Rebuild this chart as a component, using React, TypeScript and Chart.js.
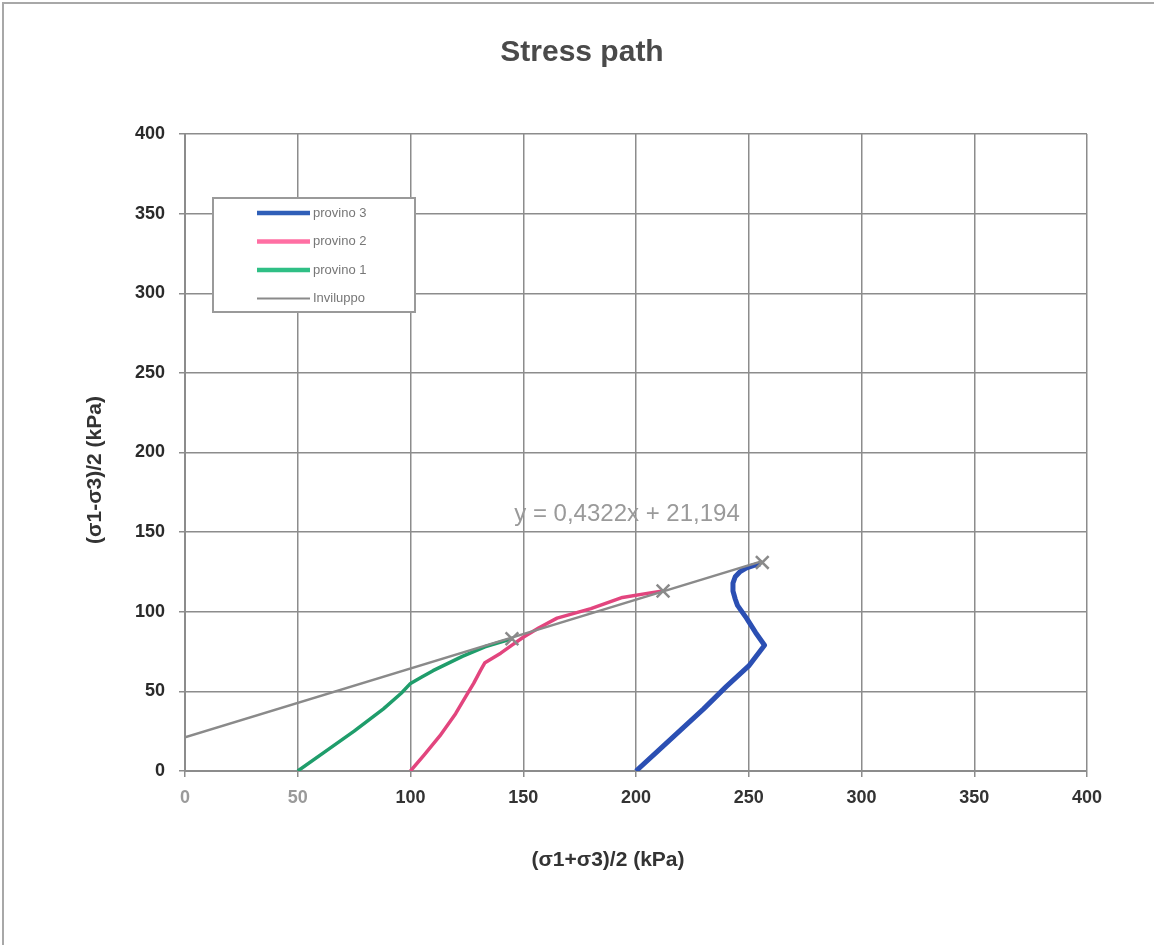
import React, { useEffect, useRef } from "react";
import { Chart, registerables } from "chart.js";

Chart.register(...registerables);

const TITLE = "Stress path";
const X_TITLE = "(σ1+σ3)/2 (kPa)";
const Y_TITLE = "(σ1-σ3)/2 (kPa)";
const EQUATION = "y = 0,4322x + 21,194";
const EQUATION_POS = [146, 161];

const X_TICKS = [0, 50, 100, 150, 200, 250, 300, 350, 400];
const Y_TICKS = [0, 50, 100, 150, 200, 250, 300, 350, 400];

const provino3 = [
  [200, 0], [210, 13], [220, 26], [230, 39], [240, 53], [250, 66], [257, 79],
  [253, 87], [249, 96], [245, 104], [244, 108], [243, 113], [243, 118],
  [244, 122], [246, 125], [249, 127.5], [252, 129], [255, 130],
];
const provino2 = [
  [100, 0], [106, 10], [113, 22], [120, 36], [125, 48], [128, 55], [131, 63],
  [133, 68], [140, 74], [145, 79], [150, 84], [157, 90], [165, 96], [180, 102],
  [194, 109], [207, 112], [212, 113],
];
const provino1 = [
  [50, 0], [62, 12], [75, 25], [88, 39], [96, 49], [100, 55], [105, 59],
  [110, 63], [123, 72], [133, 78], [140, 81], [145, 83],
];
const inviluppo = [[0, 21.2], [256, 131.8]];
const failurePoints = [[145, 83], [212, 113], [256, 131]];

const SERIES_NAMES = ["provino 3", "provino 2", "provino 1", "Inviluppo"];
const SERIES_COLORS = ["#2b4fb3", "#e2457e", "#1f9d6b", "#8a8a8a"];
const LEGEND_COLORS = ["#2f5fb8", "#ff6fa3", "#2fbf85", "#8a8a8a"];

const toXY = (arr: number[][]) => arr.map(([x, y]) => ({ x, y }));

const FONT = "'Liberation Sans', Arial, sans-serif";

const extrasPlugin = {
  id: "extras",
  afterDraw(chart: any) {
    const { ctx, scales } = chart;
    ctx.save();
    // frame
    ctx.strokeStyle = "#a8a8a8";
    ctx.lineWidth = 2;
    ctx.beginPath();
    ctx.moveTo(3, 945);
    ctx.lineTo(3, 3);
    ctx.lineTo(1154, 3);
    ctx.stroke();
    // title
    ctx.fillStyle = "#4a4a4a";
    ctx.font = `bold 30px ${FONT}`;
    ctx.textAlign = "center";
    ctx.textBaseline = "middle";
    ctx.fillText(TITLE, 582, 53);
    // axis titles
    ctx.fillStyle = "#333333";
    ctx.font = `bold 21px ${FONT}`;
    ctx.fillText(X_TITLE, 608, 860);
    ctx.save();
    ctx.translate(95, 470);
    ctx.rotate(-Math.PI / 2);
    ctx.fillText(Y_TITLE, 0, 0);
    ctx.restore();
    // equation
    ctx.fillStyle = "#9a9a9a";
    ctx.font = `24px ${FONT}`;
    ctx.textAlign = "left";
    ctx.fillText(
      EQUATION,
      scales.x.getPixelForValue(EQUATION_POS[0]),
      scales.y.getPixelForValue(EQUATION_POS[1])
    );
    // legend
    const bx = 213, by = 198, bw = 202, bh = 114;
    ctx.fillStyle = "#ffffff";
    ctx.fillRect(bx, by, bw, bh);
    ctx.strokeStyle = "#9a9a9a";
    ctx.lineWidth = 2;
    ctx.strokeRect(bx, by, bw, bh);
    const widths = [4.5, 4.5, 4.5, 2];
    ctx.font = `13px ${FONT}`;
    ctx.textBaseline = "middle";
    SERIES_NAMES.forEach((name, i) => {
      const yy = 213 + i * 28.5;
      ctx.strokeStyle = LEGEND_COLORS[i];
      ctx.lineWidth = widths[i];
      ctx.beginPath();
      ctx.moveTo(257, yy);
      ctx.lineTo(310, yy);
      ctx.stroke();
      ctx.fillStyle = "#777777";
      ctx.fillText(name, 313, yy);
    });
    ctx.restore();
  },
};

export default function App() {
  const ref = useRef<HTMLCanvasElement>(null);
  useEffect(() => {
    if (!ref.current) return;
    const chart = new Chart(ref.current, {
      type: "scatter",
      data: {
        datasets: [
          {
            label: "failure",
            data: toXY(failurePoints),
            showLine: false,
            pointStyle: "crossRot",
            pointRadius: 9,
            pointBorderWidth: 2.5,
            borderColor: "#8a8a8a",
            backgroundColor: "#8a8a8a",
          },
          {
            label: SERIES_NAMES[3],
            data: toXY(inviluppo),
            showLine: true,
            borderColor: SERIES_COLORS[3],
            borderWidth: 2.5,
            pointRadius: 0,
          },
          {
            label: SERIES_NAMES[0],
            data: toXY(provino3),
            showLine: true,
            borderColor: SERIES_COLORS[0],
            borderWidth: 5,
            pointRadius: 0,
            borderJoinStyle: "round",
          },
          {
            label: SERIES_NAMES[1],
            data: toXY(provino2),
            showLine: true,
            borderColor: SERIES_COLORS[1],
            borderWidth: 3.5,
            pointRadius: 0,
            borderJoinStyle: "round",
          },
          {
            label: SERIES_NAMES[2],
            data: toXY(provino1),
            showLine: true,
            borderColor: SERIES_COLORS[2],
            borderWidth: 3.5,
            pointRadius: 0,
            borderJoinStyle: "round",
          },
        ],
      },
      options: {
        responsive: false,
        animation: false,
        devicePixelRatio: 1,
        layout: { padding: { top: 134, right: 67, left: 0, bottom: 0 } },
        plugins: {
          legend: { display: false },
          title: { display: false },
          tooltip: { enabled: false },
        },
        scales: {
          x: {
            type: "linear",
            min: 0,
            max: 400,
            afterFit: (s: any) => { s.height = 174; },
            afterBuildTicks: (s: any) => { s.ticks = X_TICKS.map((v) => ({ value: v })); },
            grid: { color: "#8c8c8c", lineWidth: 1.5, tickLength: 6, tickColor: "#8c8c8c" },
            border: { color: "#8c8c8c", width: 2 },
            ticks: {
              padding: 10,
              color: (c: any) => (c.tick && c.tick.value < 100 ? "#9a9a9a" : "#333333"),
              font: { family: FONT, size: 18, weight: "bold" },
            },
            title: { display: false, text: X_TITLE },
          },
          y: {
            type: "linear",
            min: 0,
            max: 400,
            afterFit: (s: any) => { s.width = 185; },
            afterBuildTicks: (s: any) => { s.ticks = Y_TICKS.map((v) => ({ value: v })); },
            grid: { color: "#8c8c8c", lineWidth: 1.5, tickLength: 6, tickColor: "#8c8c8c" },
            border: { color: "#8c8c8c", width: 2 },
            ticks: {
              padding: 14,
              color: "#2a2a2a",
              font: { family: FONT, size: 18, weight: "bold" },
            },
            title: { display: false, text: Y_TITLE },
          },
        },
      },
      plugins: [extrasPlugin],
    } as any);
    return () => chart.destroy();
  }, []);
  return (
    <div style={{ position: "fixed", left: 0, top: 0, width: 1154, height: 945, background: "#fff" }}>
      <canvas ref={ref} width={1154} height={945} style={{ width: 1154, height: 945, display: "block" }} />
    </div>
  );
}
